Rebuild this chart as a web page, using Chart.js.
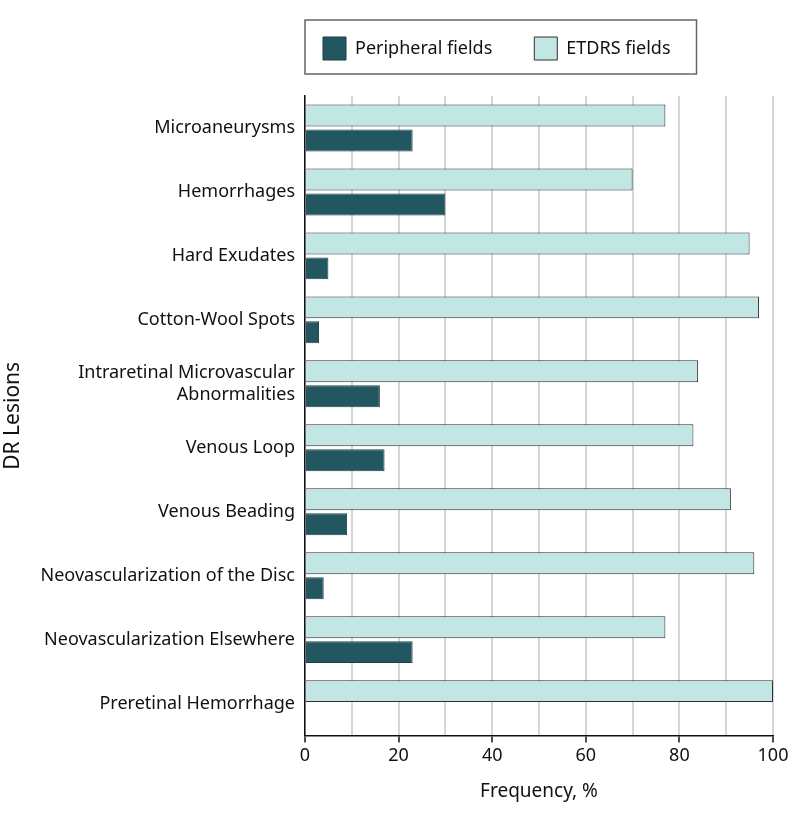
<!DOCTYPE html>
<html lang="en">
<head>
    <meta charset="UTF-8">
    <title>DR Lesions Frequency</title>
    <style>
        body { margin: 0; background: #fff; }
        #wrap { width: 794px; height: 818px; }
    </style>
</head>
<body>
    <div id="wrap"><canvas id="myChart"></canvas></div>

    <script src="https://cdn.jsdelivr.net/npm/chart.js"></script>
    <script>
        const lesions = [
            'Microaneurysms',
            'Hemorrhages',
            'Hard Exudates',
            'Cotton-Wool Spots',
            ['Intraretinal Microvascular', 'Abnormalities'],
            'Venous Loop',
            'Venous Beading',
            'Neovascularization of the Disc',
            'Neovascularization Elsewhere',
            'Preretinal Hemorrhage'
        ];
        const etdrsFields = [77, 70, 95, 97, 84, 83, 91, 96, 77, 100];
        const peripheralFields = [23, 30, 5, 3, 16, 17, 9, 4, 23, 0];

        const FONT = "'Noto Sans', 'Open Sans', sans-serif";
        const LEG_PAD = 42;     // gap between legend items
        const LEG_SHIFT_X = 24; // pull first item back toward the frame edge
        const LEG_SHIFT_Y = 20; // and up, the big padding pushes it down

        // frame around the legend + some room below it
        const legendFrame = {
            id: 'legendFrame',
            beforeInit(chart) {
                const lg = chart.legend;
                const fit = lg.fit;
                lg.fit = function () { fit.call(this); this.height += 6; };
                const draw = lg.draw;
                lg.draw = function () {
                    const l = this.left, t = this.top;
                    this.left = l - LEG_SHIFT_X;
                    this.top = t - LEG_SHIFT_Y;
                    draw.call(this);
                    this.left = l;
                    this.top = t;
                };
            },
            afterDraw(chart) {
                const lg = chart.legend;
                const boxes = lg.legendHitBoxes;
                if (!boxes || !boxes.length) return;
                const itemTop = lg.top + LEG_PAD - LEG_SHIFT_Y;
                const left = chart.chartArea.left;
                const right = Math.max(...boxes.map(b => b.left + b.width)) - LEG_SHIFT_X + 26;
                const top = itemTop - 17;
                const bottom = itemTop + 23 + 14;
                const c = chart.ctx;
                c.save();
                c.strokeStyle = '#666';
                c.lineWidth = 1.5;
                c.strokeRect(left, top, right - left, bottom - top);
                c.restore();
            }
        };

        const ctx = document.getElementById('myChart').getContext('2d');
        const myChart = new Chart(ctx, {
            type: 'bar',
            data: {
                labels: lesions,
                datasets: [
                    { label: 'ETDRS fields', data: etdrsFields, backgroundColor: '#c2e6e4', borderColor: '#2e2e2e', borderWidth: 1, borderSkipped: 'start' },
                    { label: 'Peripheral fields', data: peripheralFields, backgroundColor: '#225661', borderColor: '#1d3f46', borderWidth: 1, borderSkipped: 'start' }
                ]
            },
            options: {
                indexAxis: 'y',
                responsive: true,
                maintainAspectRatio: false,
                animation: false,
                categoryPercentage: 0.78,
                barPercentage: 0.88,
                layout: { padding: { left: 0, right: 21, top: 15, bottom: 15 } },
                plugins: {
                    tooltip: { enabled: false },
                    legend: {
                        position: 'top',
                        align: 'start',
                        fullSize: false,
                        reverse: true,
                        labels: {
                            boxWidth: 23,
                            boxHeight: 23,
                            padding: LEG_PAD,
                            color: '#111',
                            font: { family: FONT, size: 18 }
                        }
                    }
                },
                scales: {
                    x: {
                        min: 0,
                        max: 100,
                        ticks: {
                            stepSize: 10,
                            autoSkip: false,
                            maxRotation: 0,
                            padding: 2,
                            color: '#111',
                            font: { family: FONT, size: 18 },
                            callback: v => (v % 20 === 0 ? v : '')
                        },
                        grid: {
                            color: '#d6d6d6',
                            lineWidth: 2,
                            tickLength: 7,
                            tickColor: c => (c.tick && c.tick.value % 20 === 0 ? '#111' : 'rgba(0,0,0,0)'),
                            tickWidth: 1.5
                        },
                        border: { display: true, color: '#111', width: 1.5 },
                        title: {
                            display: true,
                            text: 'Frequency, %',
                            color: '#111',
                            font: { family: FONT, size: 19 },
                            padding: { top: 12, bottom: 0 }
                        }
                    },
                    y: {
                        grid: { display: false, drawTicks: false },
                        border: { display: true, color: '#111', width: 1.5 },
                        ticks: {
                            color: '#111',
                            padding: 10,
                            font: { family: FONT, size: 18 }
                        },
                        title: {
                            display: true,
                            text: 'DR Lesions',
                            color: '#111',
                            font: { family: FONT, size: 21 },
                            padding: { top: 0, bottom: 0 }
                        },
                        afterFit: scale => { scale.width = 305; }
                    }
                }
            },
            plugins: [legendFrame]
        });
    </script>
</body>
</html>
